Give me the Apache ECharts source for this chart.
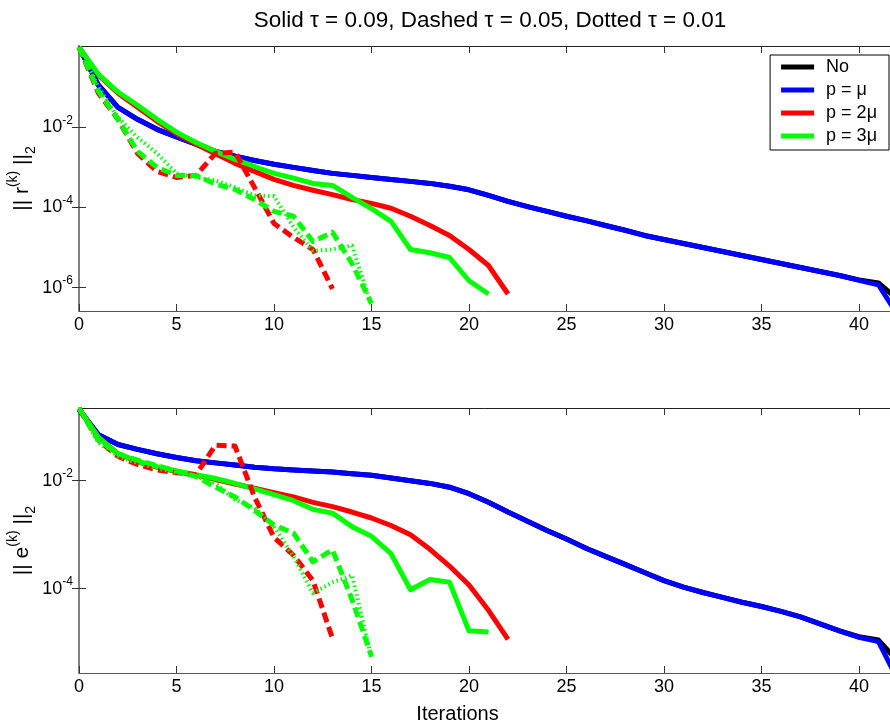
<!DOCTYPE html>
<html>
<head>
<meta charset="utf-8">
<script src="https://cdn.jsdelivr.net/npm/echarts@6/dist/echarts.min.js"></script>
<style>
  html, body { margin: 0; padding: 0; background: #fff; }
  #chart { width: 890px; height: 726px; }
</style>
</head>
<body>
<div id="chart"></div>
<script>
// Iteration index shared by every curve (0, 1, 2, ...)
const xTickValues = [0, 5, 10, 15, 20, 25, 30, 35, 40];
const residualTicks = [1e-6, 1e-4, 1e-2];
const errorTicks = [1e-4, 1e-2];

const legendNames = ['No', 'p = \u03bc', 'p = 2\u03bc', 'p = 3\u03bc'];

// ---- Residual norm || r(k) ||_2 ----
const resNo = [1.0, 1.12e-1, 3.16e-2, 1.58e-2, 8.91e-3, 5.75e-3, 3.80e-3, 2.51e-3, 1.91e-3, 1.48e-3,
  1.20e-3, 1.00e-3, 8.32e-4, 7.08e-4, 6.31e-4, 5.62e-4, 5.01e-4, 4.47e-4, 3.98e-4, 3.39e-4,
  2.75e-4, 2.00e-4, 1.41e-4, 1.05e-4, 7.94e-5, 6.03e-5, 4.68e-5, 3.55e-5, 2.69e-5, 2.00e-5,
  1.58e-5, 1.26e-5, 1.00e-5, 7.94e-6, 6.31e-6, 5.01e-6, 3.98e-6, 3.16e-6, 2.51e-6, 2.00e-6,
  1.55e-6, 1.30e-6, 5.0e-7];
const resMu = [1.0, 1.12e-1, 3.16e-2, 1.58e-2, 8.91e-3, 5.75e-3, 3.80e-3, 2.51e-3, 1.91e-3, 1.48e-3,
  1.20e-3, 1.00e-3, 8.32e-4, 7.08e-4, 6.31e-4, 5.62e-4, 5.01e-4, 4.47e-4, 3.98e-4, 3.39e-4,
  2.75e-4, 2.00e-4, 1.41e-4, 1.05e-4, 7.94e-5, 6.03e-5, 4.68e-5, 3.55e-5, 2.69e-5, 2.00e-5,
  1.58e-5, 1.26e-5, 1.00e-5, 7.94e-6, 6.31e-6, 5.01e-6, 3.98e-6, 3.16e-6, 2.51e-6, 2.00e-6,
  1.51e-6, 1.17e-6, 2.0e-7];
const res2MuSolid = [1.0, 2.00e-1, 7.08e-2, 3.16e-2, 1.41e-2, 6.90e-3, 3.80e-3, 2.19e-3, 1.26e-3, 7.94e-4,
  5.01e-4, 3.55e-4, 2.69e-4, 2.09e-4, 1.58e-4, 1.26e-4, 9.55e-5, 6.03e-5, 3.55e-5, 2.00e-5,
  8.91e-6, 3.55e-6, 6.90e-7];
const res2MuDashed = [1.0, 7.08e-2, 1.58e-2, 2.24e-3, 7.94e-4, 5.62e-4, 6.31e-4, 2.24e-3, 2.40e-3, 3.16e-4,
  3.98e-5, 1.78e-5, 8.91e-6, 9.33e-7];
const res3MuSolid = [1.0, 2.09e-1, 7.59e-2, 3.55e-2, 1.58e-2, 7.59e-3, 4.17e-3, 2.51e-3, 1.58e-3, 1.05e-3,
  7.08e-4, 5.37e-4, 3.98e-4, 3.55e-4, 1.78e-4, 9.33e-5, 4.47e-5, 8.91e-6, 7.41e-6, 5.62e-6,
  1.48e-6, 6.92e-7];
const res3MuDashed = [1.0, 7.94e-2, 1.58e-2, 2.51e-3, 1.00e-3, 6.31e-4, 6.31e-4, 3.80e-4, 2.82e-4, 1.58e-4,
  7.94e-5, 6.03e-5, 1.41e-5, 2.40e-5, 3.98e-6, 3.98e-7];
const res3MuDotted = [1.0, 1.00e-1, 1.78e-2, 5.62e-3, 2.24e-3, 7.08e-4, 5.62e-4, 4.68e-4, 3.16e-4, 2.00e-4,
  1.91e-4, 3.24e-5, 8.32e-6, 8.91e-6, 1.12e-5, 3.55e-7];

// ---- Error norm || e(k) ||_2 ----
const errNo = [2.09e-1, 7.08e-2, 4.68e-2, 3.80e-2, 3.16e-2, 2.69e-2, 2.34e-2, 2.14e-2, 1.95e-2, 1.78e-2,
  1.66e-2, 1.58e-2, 1.51e-2, 1.45e-2, 1.35e-2, 1.26e-2, 1.12e-2, 1.00e-2, 8.91e-3, 7.59e-3,
  5.75e-3, 3.98e-3, 2.63e-3, 1.78e-3, 1.20e-3, 8.32e-4, 5.62e-4, 3.98e-4, 2.82e-4, 2.00e-4,
  1.41e-4, 1.07e-4, 8.51e-5, 6.92e-5, 5.62e-5, 4.68e-5, 3.80e-5, 3.02e-5, 2.24e-5, 1.66e-5,
  1.29e-5, 1.12e-5, 4.47e-6];
const errMu = [2.09e-1, 7.08e-2, 4.68e-2, 3.80e-2, 3.16e-2, 2.69e-2, 2.34e-2, 2.14e-2, 1.95e-2, 1.78e-2,
  1.66e-2, 1.58e-2, 1.51e-2, 1.45e-2, 1.35e-2, 1.26e-2, 1.12e-2, 1.00e-2, 8.91e-3, 7.59e-3,
  5.75e-3, 3.98e-3, 2.63e-3, 1.78e-3, 1.20e-3, 8.32e-4, 5.62e-4, 3.98e-4, 2.82e-4, 2.00e-4,
  1.41e-4, 1.07e-4, 8.51e-5, 6.92e-5, 5.62e-5, 4.68e-5, 3.80e-5, 3.02e-5, 2.24e-5, 1.66e-5,
  1.26e-5, 1.05e-5, 2.00e-6];
const err2MuSolid = [2.19e-1, 6.31e-2, 3.16e-2, 2.24e-2, 1.78e-2, 1.48e-2, 1.26e-2, 1.05e-2, 8.71e-3, 7.24e-3,
  6.03e-3, 5.01e-3, 3.98e-3, 3.31e-3, 2.63e-3, 2.04e-3, 1.48e-3, 1.00e-3, 5.37e-4, 2.63e-4,
  1.17e-4, 3.98e-5, 1.15e-5];
const err2MuDashed = [2.19e-1, 5.62e-2, 2.82e-2, 2.00e-2, 1.58e-2, 1.41e-2, 1.29e-2, 4.57e-2, 4.37e-2, 5.01e-3,
  8.91e-4, 4.17e-4, 1.41e-4, 1.20e-5];
const err3MuSolid = [2.19e-1, 6.31e-2, 3.16e-2, 2.29e-2, 1.82e-2, 1.51e-2, 1.29e-2, 1.10e-2, 8.91e-3, 7.08e-3,
  5.50e-3, 4.27e-3, 2.95e-3, 2.51e-3, 1.41e-3, 9.33e-4, 4.47e-4, 9.55e-5, 1.48e-4, 1.32e-4,
  1.66e-5, 1.58e-5];
const err3MuDashed = [2.19e-1, 5.62e-2, 3.16e-2, 2.40e-2, 1.91e-2, 1.51e-2, 1.20e-2, 7.59e-3, 5.01e-3, 2.82e-3,
  1.51e-3, 1.07e-3, 3.16e-4, 5.25e-4, 6.31e-5, 5.62e-6];
const err3MuDotted = [2.19e-1, 5.01e-2, 2.82e-2, 2.14e-2, 1.70e-2, 1.41e-2, 1.20e-2, 8.91e-3, 4.47e-3, 3.16e-3,
  1.41e-3, 3.98e-4, 8.32e-5, 1.32e-4, 1.78e-4, 5.25e-6];

const FONT = "'Liberation Sans', Arial, Helvetica, sans-serif";
const COLORS = { No: '#000000', mu: '#0000ff', mu2: '#ff0000', mu3: '#00ff00' };
const DASHED = [10, 5];
const DOTTED = [1.5, 3];

// pair each value with its iteration number
function toPoints(values) {
  return values.map((v, i) => [i, v]);
}

function curve(name, values, color, dash, panel) {
  return {
    type: 'line',
    name: name,
    xAxisIndex: panel * 2,
    yAxisIndex: panel * 2,
    data: toPoints(values),
    showSymbol: false,
    symbol: 'none',
    clip: true,
    silent: true,
    lineStyle: {
      color: color,
      width: dash === DOTTED ? 4 : 5,
      type: dash || 'solid',
      cap: 'butt',
      join: 'round'
    },
    itemStyle: { color: color }
  };
}

function panelSeries(panel, d) {
  return [
    curve(legendNames[0], d.no, COLORS.No, null, panel),
    curve(legendNames[1], d.mu, COLORS.mu, null, panel),
    curve(legendNames[2], d.mu2s, COLORS.mu2, null, panel),
    curve(legendNames[3], d.mu3s, COLORS.mu3, null, panel),
    curve('p = 2\u03bc, \u03c4 = 0.05', d.mu2d, COLORS.mu2, DASHED, panel),
    curve('p = 3\u03bc, \u03c4 = 0.05', d.mu3d, COLORS.mu3, DASHED, panel),
    curve('p = 3\u03bc, \u03c4 = 0.01', d.mu3o, COLORS.mu3, DOTTED, panel)
  ];
}

function xAxisDef(gridIndex, position, withLabels, name) {
  const ax = {
    type: 'value',
    gridIndex: gridIndex,
    position: position,
    min: 0,
    max: 42,
    axisLine: { show: true, onZero: false, lineStyle: { color: position === 'bottom' ? '#555' : '#222', width: 1 } },
    axisTick: { show: true, inside: true, length: 7, customValues: xTickValues, lineStyle: { color: '#333', width: 1 } },
    axisLabel: { show: withLabels, customValues: xTickValues, margin: 5, fontSize: 18, color: '#000', fontFamily: FONT },
    splitLine: { show: false }
  };
  if (name) {
    ax.name = name;
    ax.nameLocation = 'middle';
    ax.nameGap = 31;
    ax.nameTextStyle = { fontSize: 20, color: '#000', fontFamily: FONT, padding: [0, 62, 0, 0] };
  }
  return ax;
}

function tickLabel(v) {
  const e = Math.round(Math.log10(v));
  return '{b|10}{s|' + e + '}';
}

function yAxisDef(gridIndex, position, min, max, ticks, nameRich) {
  const left = position === 'left';
  const ax = {
    type: 'log',
    logBase: 10,
    gridIndex: gridIndex,
    position: position,
    min: min,
    max: max,
    axisLine: { show: left, lineStyle: { color: '#808080', width: 2 } },
    axisTick: { show: true, inside: true, length: 7, customValues: ticks, lineStyle: { color: '#333', width: 1 } },
    axisLabel: {
      show: left,
      customValues: ticks,
      margin: 6,
      formatter: tickLabel,
      rich: {
        b: { fontSize: 18, color: '#000', fontFamily: FONT, lineHeight: 26, verticalAlign: 'middle' },
        s: { fontSize: 12, color: '#000', fontFamily: FONT, verticalAlign: 'top' }
      }
    },
    splitLine: { show: false },
    minorTick: { show: false }
  };
  if (nameRich) {
    ax.name = nameRich;
    ax.nameLocation = 'middle';
    ax.nameRotate = 90;
    ax.nameGap = 41;
    ax.nameMoveOverlap = false;
    ax.nameTextStyle = {
      rich: {
        t: { fontSize: 21, color: '#000', fontFamily: FONT, lineHeight: 32, verticalAlign: 'middle' },
        sup: { fontSize: 14, color: '#000', fontFamily: FONT, verticalAlign: 'top' },
        sub: { fontSize: 14, color: '#000', fontFamily: FONT, verticalAlign: 'bottom' }
      }
    };
  }
  return ax;
}

const chart = echarts.init(document.getElementById('chart'), null, { renderer: 'canvas' });

chart.setOption({
  animation: false,
  backgroundColor: '#ffffff',
  title: {
    text: 'Solid \u03c4 = 0.09, Dashed \u03c4 = 0.05, Dotted \u03c4 = 0.01',
    left: 485,
    top: 4,
    textAlign: 'center',
    textStyle: { fontSize: 22.5, fontWeight: 'normal', color: '#000', fontFamily: FONT }
  },
  legend: {
    data: legendNames,
    orient: 'vertical',
    right: 1,
    top: 55,
    backgroundColor: '#fff',
    borderColor: '#000',
    borderWidth: 1,
    borderRadius: 0,
    padding: [3, 12, 5, 11],
    itemGap: 5,
    icon: 'rect',
    itemWidth: 33,
    itemHeight: 5,
    selectedMode: false,
    textStyle: { fontSize: 18, color: '#000', fontFamily: FONT, padding: [0, 0, 0, 7] }
  },
  grid: [
    { left: 79, top: 46, width: 819, height: 265, containLabel: false, outerBoundsMode: 'none' },
    { left: 79, top: 408, width: 819, height: 265, containLabel: false, outerBoundsMode: 'none' }
  ],
  xAxis: [
    xAxisDef(0, 'bottom', true),
    xAxisDef(0, 'top', false),
    xAxisDef(1, 'bottom', true, 'Iterations'),
    xAxisDef(1, 'top', false)
  ],
  yAxis: [
    yAxisDef(0, 'left', 2.6e-7, 1.07, residualTicks, '{t||| r}{sup|(k)}{t| ||}{sub|2}'),
    yAxisDef(0, 'right', 2.6e-7, 1.07, residualTicks),
    yAxisDef(1, 'left', 2.75e-6, 0.222, errorTicks, '{t||| e}{sup|(k)}{t| ||}{sub|2}'),
    yAxisDef(1, 'right', 2.75e-6, 0.222, errorTicks)
  ],
  series: [].concat(
    panelSeries(0, {
      no: resNo, mu: resMu, mu2s: res2MuSolid, mu3s: res3MuSolid,
      mu2d: res2MuDashed, mu3d: res3MuDashed, mu3o: res3MuDotted
    }),
    panelSeries(1, {
      no: errNo, mu: errMu, mu2s: err2MuSolid, mu3s: err3MuSolid,
      mu2d: err2MuDashed, mu3d: err3MuDashed, mu3o: err3MuDotted
    })
  )
});
</script>
</body>
</html>
